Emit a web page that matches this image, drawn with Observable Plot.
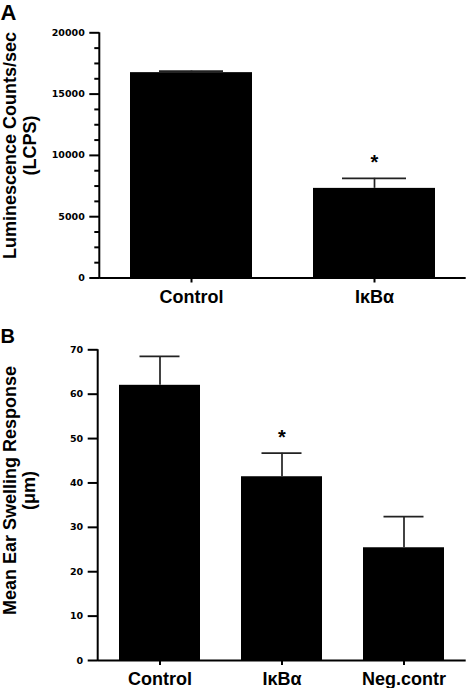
<!DOCTYPE html>
<html>
<head>
<meta charset="utf-8">
<script src="https://cdn.jsdelivr.net/npm/d3@7"></script>
<script src="https://cdn.jsdelivr.net/npm/@observablehq/plot@0.6"></script>
<style>
  html, body { margin: 0; padding: 0; background: white; }
  #chart { width: 470px; height: 688px; position: relative; }
  #chart svg { display: block; }
</style>
</head>
<body>
<div id="chart"></div>
<script>
// ---- Panel A data ----
const groupsA = ["Control", "IκBα"];
const valuesA = [16750, 7310];
const semA = [130, 820];
const sigA = [false, true];
const ticksA = [0, 5000, 10000, 15000, 20000];
const minorTicksA = [1250, 2500, 3750, 6250, 7500, 8750, 11250, 12500, 13750, 16250, 17500, 18750];
const ylabelA = ["Luminescence Counts/sec", "(LCPS)"];

// ---- Panel B data ----
const groupsB = ["Control", "IκBα", "Neg.contr"];
const valuesB = [62.0, 41.4, 25.4];
const semB = [6.5, 5.3, 7.0];
const sigB = [false, true, false];
const ticksB = [0, 10, 20, 30, 40, 50, 60, 70];
const ylabelB = ["Mean Ear Swelling Response", "(μm)"];

const LABEL_FONT = "'Liberation Sans', Arial, Helvetica, sans-serif";
const TICK_FONT = "'DejaVu Sans', sans-serif";

function panel({letter, letterSize, groups, values, sem, sig, ticks, minorTicks, ymax, ylabel,
                height, marginTop, marginBottom, marginLeft, marginRight, capInset, letterBaseline, labelCenterY}) {
  const data = groups.map((g, i) => ({name: g, value: values[i], upper: values[i] + sem[i], sig: sig[i]}));
  const frameMid = marginTop + (height - marginTop - marginBottom) / 2;
  const yAxisLine = (index, scales, values, dimensions) => {
    const g = d3.create("svg:g");
    g.append("line")
      .attr("x1", dimensions.marginLeft).attr("x2", dimensions.marginLeft)
      .attr("y1", scales.y(0) + 1).attr("y2", scales.y(ymax))
      .attr("stroke", "black").attr("stroke-width", 2);
    return g.node();
  };
  const marks = [
    Plot.barY(data, {x: "name", y: "value", fill: "black"}),
    Plot.ruleX(data, {x: "name", y1: "value", y2: "upper", stroke: "#222", strokeWidth: 1.7}),
    Plot.tickY(data, {x: "name", y: "upper", stroke: "#222", strokeWidth: 1.7, insetLeft: capInset, insetRight: capInset}),
    Plot.text(data.filter(d => d.sig), {x: "name", y: "upper", text: () => "*", dy: -16, fontSize: 20, fontWeight: "bold", lineAnchor: "middle"}),
    Plot.ruleY([0], {stroke: "black", strokeWidth: 2}),
    yAxisLine,
    Plot.axisY({ticks, tickSize: 10, tickPadding: 5, tickFormat: d => String(d), fontSize: 9.5, fontWeight: "bold", fontFamily: TICK_FONT, strokeWidth: 2, label: null}),
    Plot.axisX({tickSize: 5, tickPadding: 7, fontSize: 18, fontWeight: "bold", strokeWidth: 2, label: null}),
    Plot.text([ylabel[0]], {frameAnchor: "left", rotate: -90, textAnchor: "middle", lineAnchor: "bottom", dx: 15 - marginLeft, dy: labelCenterY - frameMid, fontSize: 18, fontWeight: "bold"}),
    Plot.text([ylabel[1]], {frameAnchor: "left", rotate: -90, textAnchor: "middle", lineAnchor: "bottom", dx: 35 - marginLeft, dy: labelCenterY - frameMid, fontSize: 18, fontWeight: "bold"}),
    Plot.text([letter], {frameAnchor: "top-left", textAnchor: "start", lineAnchor: "bottom", dx: -marginLeft, dy: letterBaseline - marginTop, fontSize: letterSize, fontWeight: "bold"})
  ];
  if (minorTicks) {
    marks.splice(7, 0, Plot.axisY({ticks: minorTicks, tickSize: 5, tickFormat: () => "", strokeWidth: 2, label: null}));
  }
  return Plot.plot({
    width: 470,
    height,
    marginTop, marginBottom, marginLeft, marginRight,
    style: {fontFamily: LABEL_FONT, fontSize: "18px", color: "black", background: "white", overflow: "visible"},
    x: {domain: groups, paddingInner: 0.333, paddingOuter: 0.165, label: null},
    y: {domain: [0, ymax], label: null},
    marks
  });
}

const chart = document.getElementById("chart");
chart.append(panel({
  letter: "A", letterSize: 22, groups: groupsA, values: valuesA, sem: semA, sig: sigA,
  ticks: ticksA, minorTicks: minorTicksA, ymax: 20000, ylabel: ylabelA,
  height: 322, marginTop: 32.3, marginBottom: 44.5, marginLeft: 99.3, marginRight: 4.3,
  capInset: 29, letterBaseline: 19, labelCenterY: 145
}));
chart.append(panel({
  letter: "B", letterSize: 20, groups: groupsB, values: valuesB, sem: semB, sig: sigB,
  ticks: ticksB, minorTicks: null, ymax: 70, ylabel: ylabelB,
  height: 366, marginTop: 27.3, marginBottom: 28, marginLeft: 97.7, marginRight: 4.3,
  capInset: 20.5, letterBaseline: 20.7, labelCenterY: 490 - 322
}));
</script>
</body>
</html>
